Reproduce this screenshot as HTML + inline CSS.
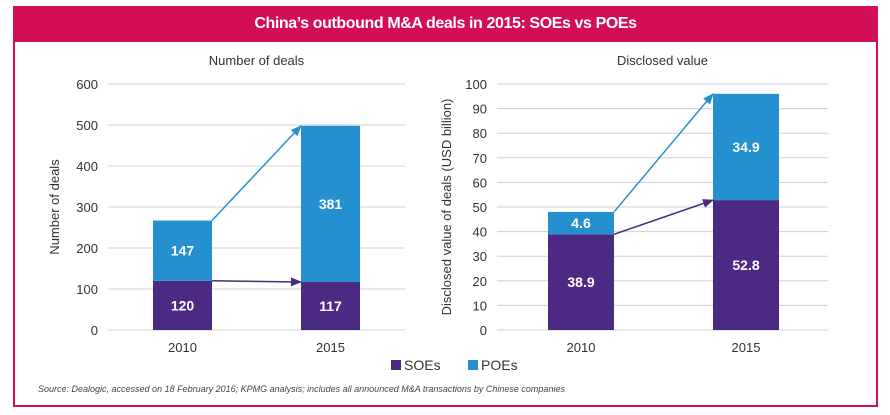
<!DOCTYPE html>
<html><head><meta charset="utf-8"><style>
html,body{margin:0;padding:0;background:#fff;}
body{width:890px;height:415px;position:relative;overflow:hidden;font-family:"Liberation Sans",sans-serif;}
#frame{position:absolute;left:13px;top:6px;width:861px;height:397px;border:2px solid #d20e56;box-sizing:content-box;}
#hdr{position:absolute;left:13px;top:6px;width:865px;height:36px;background:#d20e56;color:#fff;font-weight:bold;font-size:16px;text-align:center;line-height:36px;letter-spacing:-0.4px;}
svg{position:absolute;left:0;top:0;}
</style></head><body>
<div id="frame"></div>
<div id="hdr">China’s outbound M&amp;A deals in 2015: SOEs vs POEs</div>
<svg id="s" width="890" height="415"></svg>
<script>
const categories=['2010','2015'];
const dealsSOE=[120,117];
const dealsPOE=[147,381];
const dealsTicks=[0,100,200,300,400,500,600];
const valueSOE=[38.9,52.8];
const valuePOE=[9.1,43.2];
const valueTicks=[0,10,20,30,40,50,60,70,80,90,100];
const valueSOELabels=['38.9','52.8'];
const valuePOELabels=['4.6','34.9'];

const NS='http://www.w3.org/2000/svg';
const svg=document.getElementById('s');
const PURPLE='#4b2a84',BLUE='#2590d0';
function mk(tag,attrs,parent){const e=document.createElementNS(NS,tag);for(const k in attrs)e.setAttribute(k,attrs[k]);(parent||svg).appendChild(e);return e;}
const defs=mk('defs',{});
[['ab',BLUE],['ap',PURPLE]].forEach(([id,c])=>{const m=mk('marker',{id:id,markerWidth:11,markerHeight:9,refX:10,refY:4.5,orient:'auto',markerUnits:'userSpaceOnUse'},defs);mk('path',{d:'M0,0L11,4.5L0,9z',fill:c},m);});

function chart(cfg){
  const g=mk('g',{});
  
  
  const max=cfg.ticks[cfg.ticks.length-1];
  const y=v=>cfg.y0-(v/max)*(cfg.y0-cfg.yTop);
  const t=mk('text',{x:(cfg.x0+cfg.x1)/2,y:65,'text-anchor':'middle','font-size':13,fill:'#333'},g);
  t.textContent=cfg.title;
  
  cfg.ticks.forEach(v=>{
    const l=mk('line',{x1:cfg.x0,x2:cfg.x1,y1:y(v),y2:y(v),stroke:'#d0d0d0','stroke-width':1},g);
    
    const tx=mk('text',{x:cfg.x0-10,y:y(v)+5,'text-anchor':'end','font-size':13,fill:'#333'},g);
    tx.textContent=v;
    
  });
  const at=mk('text',{x:0,y:0,'text-anchor':'middle','font-size':13,fill:'#333',transform:`translate(${cfg.axX},${(cfg.y0+cfg.yTop)/2}) rotate(-90)`},g);
  at.textContent=cfg.axTitle;
  
  const tops=[];
  categories.forEach((c,i)=>{
    const bx=cfg.barX[i];
    const s=cfg.soe[i],p=cfg.poe[i];
    const r1=mk('rect',{x:bx,y:y(s),width:cfg.bw,height:y(0)-y(s),fill:PURPLE},g);
    
    const r2=mk('rect',{x:bx,y:y(s+p),width:cfg.bw,height:y(s)-y(s+p),fill:BLUE},g);
    
    const l1=mk('text',{x:bx+cfg.bw/2,y:(y(0)+y(s))/2+5,'text-anchor':'middle','font-size':14,'font-weight':'bold',fill:'#fff'},g);
    l1.textContent=cfg.soeL[i];
    const l2=mk('text',{x:bx+cfg.bw/2,y:(y(s)+y(s+p))/2+5,'text-anchor':'middle','font-size':14,'font-weight':'bold',fill:'#fff'},g);
    l2.textContent=cfg.poeL[i];
    const cl=mk('text',{x:bx+cfg.bw/2,y:cfg.y0+22,'text-anchor':'middle','font-size':13,fill:'#333'},g);
    cl.textContent=c;
    tops.push({bx,s:y(s),t:y(s+p)});
  });
  const a=tops[0],b=tops[1];
  const ar1=mk('line',{x1:a.bx+cfg.bw,y1:a.t,x2:b.bx,y2:b.t,stroke:BLUE,'stroke-width':1.5,'marker-end':'url(#ab)'},g);
  
  const ar2=mk('line',{x1:a.bx+cfg.bw,y1:a.s,x2:b.bx,y2:b.s,stroke:PURPLE,'stroke-width':1.5,'marker-end':'url(#ap)'},g);
  
}
chart({name:'number-of-deals-chart',title:'Number of deals',axTitle:'Number of deals',x0:108,x1:405,y0:330,yTop:84,ticks:dealsTicks,soe:dealsSOE,poe:dealsPOE,soeL:dealsSOE.map(String),poeL:dealsPOE.map(String),barX:[153,301],bw:59,axX:59});
chart({name:'disclosed-value-chart',title:'Disclosed value',axTitle:'Disclosed value of deals (USD billion)',x0:497,x1:828,y0:330,yTop:84,ticks:valueTicks,soe:valueSOE,poe:valuePOE,soeL:valueSOELabels,poeL:valuePOELabels,barX:[548,713],bw:66,axX:451});

const lg=mk('g',{});

[['SOEs',PURPLE,391],['POEs',BLUE,468]].forEach(([n,c,x])=>{
  const r=mk('rect',{x:x,y:360,width:10,height:10,fill:c},lg);
  
  const t=mk('text',{x:x+13,y:370,'font-size':14,fill:'#333'},lg);
  t.textContent=n;
});
const src=mk('text',{x:38,y:392,'font-size':9,'font-style':'italic',fill:'#444'});
src.textContent='Source: Dealogic, accessed on 18 February 2016; KPMG analysis; includes all announced M&A transactions by Chinese companies';

</script>
</body></html>
